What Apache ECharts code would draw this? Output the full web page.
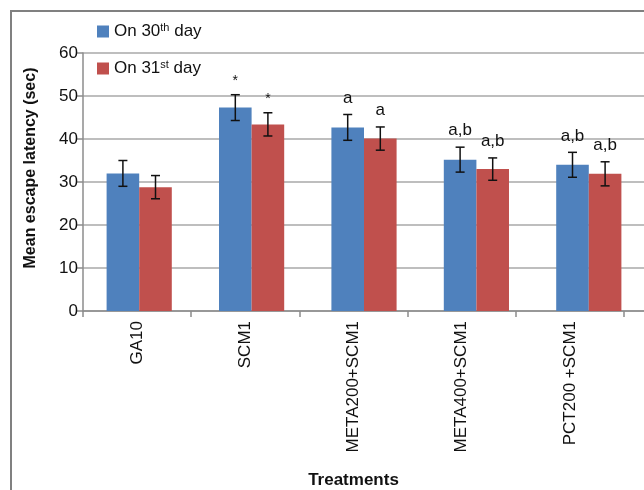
<!DOCTYPE html>
<html>
<head>
<meta charset="utf-8">
<script src="https://cdn.jsdelivr.net/npm/echarts@6/dist/echarts.min.js"></script>
<style>
  html, body { margin: 0; padding: 0; background: #fff; }
  #main { width: 644px; height: 490px; }
</style>
</head>
<body>
<div id="main"></div>
<script>
var treatments = ['GA10', 'SCM1', 'META200+SCM1', 'META400+SCM1', 'PCT200 +SCM1'];

var day30 = [32.0, 47.3, 42.7, 35.2, 34.0];
var day30Err = [3.0, 3.0, 3.0, 2.9, 2.9];
var day30Marks = ['', '*', 'a', 'a,b', 'a,b'];

var day31 = [28.8, 43.4, 40.1, 33.0, 31.9];
var day31Err = [2.7, 2.7, 2.7, 2.6, 2.8];
var day31Marks = ['', '*', 'a', 'a,b', 'a,b'];

var FONT = 'Liberation Sans, Arial, sans-serif';
var BAR_PCT = 0.29;

function errData(means, errs) {
  var res = [];
  for (var i = 0; i < means.length; i++) {
    res.push([i, means[i], errs[i]]);
  }
  return res;
}

// side: -1 = left bar of the pair, +1 = right bar
function makeErrRender(side, marks) {
  return function (params, api) {
    var idx = api.value(0);
    var mean = api.value(1);
    var err = api.value(2);
    var mark = marks[params.dataIndex];
    var band = api.size([1, 0])[0];
    var w = band * BAR_PCT;
    var x = api.coord([idx, mean])[0] + side * w / 2;
    var top = api.coord([idx, mean + err])[1];
    var bot = api.coord([idx, mean - err])[1];
    var cap = 4.5;
    var st = { stroke: '#111', lineWidth: 1.5 };
    var kids = [
      { type: 'line', shape: { x1: x, y1: top, x2: x, y2: bot }, style: st },
      { type: 'line', shape: { x1: x - cap, y1: top, x2: x + cap, y2: top }, style: st },
      { type: 'line', shape: { x1: x - cap, y1: bot, x2: x + cap, y2: bot }, style: st }
    ];
    if (mark) {
      kids.push({
        type: 'text',
        style: {
          text: mark,
          x: x,
          y: top - (mark === '*' ? 7 : 8),
          align: 'center',
          verticalAlign: 'bottom',
          fontFamily: FONT,
          fontSize: mark === '*' ? 14 : 17,
          fill: '#111'
        }
      });
    }
    return { type: 'group', children: kids };
  };
}

var chart = echarts.init(document.getElementById('main'), null, { renderer: 'canvas' });

var option = {
  animation: false,
  backgroundColor: '#fff',
  textStyle: { fontFamily: FONT },
  graphic: [{
    type: 'rect',
    shape: { x: 11, y: 11, width: 700, height: 520 },
    style: { fill: 'none', stroke: '#808080', lineWidth: 2 },
    silent: true
  }],
  legend: {
    orient: 'vertical',
    left: 97,
    top: 22,
    padding: 0,
    itemWidth: 12,
    itemHeight: 12,
    itemGap: 19,
    icon: 'rect',
    data: ['On 30th day', 'On 31st day'],
    formatter: function (name) {
      if (name === 'On 30th day') return '{t|On 30}{s|th}{t| day}';
      return '{t|On 31}{s|st}{t| day}';
    },
    textStyle: {
      rich: {
        t: { fontFamily: FONT, fontSize: 17, color: '#111' },
        s: { fontFamily: FONT, fontSize: 11, color: '#111', padding: [0, 0, 8, 0] }
      }
    }
  },
  grid: [
    { left: 83, top: 53, width: 562, bottom: 179, containLabel: false, outerBoundsMode: 'none' },
    { left: 83, top: 53, width: 541, bottom: 179, containLabel: false, outerBoundsMode: 'none' }
  ],
  xAxis: [{
    type: 'category',
    gridIndex: 0,
    data: treatments,
    axisLine: { show: true, lineStyle: { color: '#8c8c8c', width: 1.5 } },
    axisTick: { show: false },
    axisLabel: { show: false }
  }, {
    type: 'category',
    gridIndex: 1,
    data: treatments,
    axisLine: { show: false },
    axisTick: { show: true, length: 6, lineStyle: { color: '#8c8c8c', width: 1.5 } },
    axisLabel: {
      rotate: 90,
      margin: 10,
      fontFamily: FONT,
      fontSize: 17,
      color: '#111'
    },
    name: 'Treatments',
    nameLocation: 'middle',
    nameGap: 161,
    nameTextStyle: { fontFamily: FONT, fontSize: 17, fontWeight: 'bold', color: '#111' }
  }],
  yAxis: [{
    type: 'value',
    gridIndex: 0,
    min: 0,
    max: 60,
    interval: 10,
    axisLine: { show: true, lineStyle: { color: '#8c8c8c', width: 1.5 } },
    axisTick: { show: true, length: 6, lineStyle: { color: '#8c8c8c', width: 1.5 } },
    axisLabel: { margin: 5, fontFamily: FONT, fontSize: 17, color: '#111' },
    splitLine: { show: true, lineStyle: { color: '#a8a8a8', width: 1.5 } },
    name: 'Mean escape latency (sec)',
    nameLocation: 'middle',
    nameGap: 44,
    nameTextStyle: { fontFamily: FONT, fontSize: 16, fontWeight: 'bold', color: '#111', padding: [0, 0, 0, 28] }
  }, {
    type: 'value',
    gridIndex: 1,
    min: 0,
    max: 60,
    show: false
  }],
  series: [{
    name: 'On 30th day',
    type: 'bar',
    xAxisIndex: 0,
    yAxisIndex: 0,
    barWidth: (BAR_PCT * 100) + '%',
    barGap: '0%',
    itemStyle: { color: '#4F81BD' },
    data: day30
  }, {
    name: 'On 31st day',
    type: 'bar',
    xAxisIndex: 0,
    yAxisIndex: 0,
    barWidth: (BAR_PCT * 100) + '%',
    barGap: '0%',
    itemStyle: { color: '#C0504D' },
    data: day31
  }, {
    type: 'custom',
    xAxisIndex: 0,
    yAxisIndex: 0,
    z: 5,
    data: errData(day30, day30Err),
    renderItem: makeErrRender(-1, day30Marks)
  }, {
    type: 'custom',
    xAxisIndex: 0,
    yAxisIndex: 0,
    z: 5,
    data: errData(day31, day31Err),
    renderItem: makeErrRender(1, day31Marks)
  }]
};

chart.setOption(option);
</script>
</body>
</html>
